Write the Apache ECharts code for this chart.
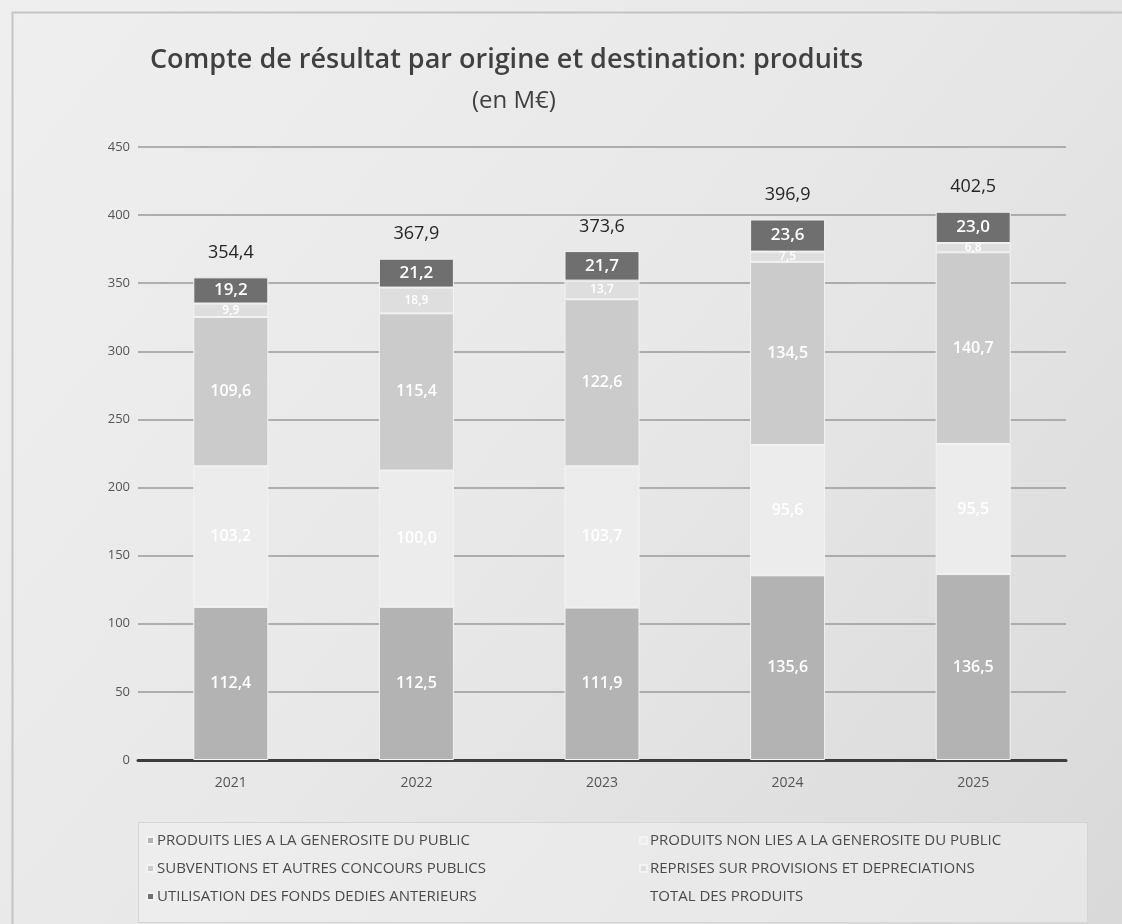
<!DOCTYPE html>
<html><head><meta charset="utf-8">
<script src="https://cdn.jsdelivr.net/npm/echarts@6/dist/echarts.min.js"></script>
<style>html,body{margin:0;padding:0;background:#e6e6e6}#c{width:1122px;height:924px}</style>
</head><body><div id="c"></div>
<script>
const categories = ['2021','2022','2023','2024','2025'];
const generosite = [112.4, 112.5, 111.9, 135.6, 136.5];
const nonGenerosite = [103.2, 100.0, 103.7, 95.6, 95.5];
const subventions = [109.6, 115.4, 122.6, 134.5, 140.7];
const reprises = [9.9, 18.9, 13.7, 7.5, 6.8];
const fondsDedies = [19.2, 21.2, 21.7, 23.6, 23.0];
const totals = [354.4, 367.9, 373.6, 396.9, 402.5];
const yTicks = [0, 50, 100, 150, 200, 250, 300, 350, 400, 450];

const names = ['PRODUITS LIES A LA GENEROSITE DU PUBLIC','PRODUITS NON LIES A LA GENEROSITE DU PUBLIC','SUBVENTIONS ET AUTRES CONCOURS PUBLICS','REPRISES SUR PROVISIONS ET DEPRECIATIONS','UTILISATION DES FONDS DEDIES ANTERIEURS','TOTAL DES PRODUITS'];
const fmt = v => v.toFixed(1).replace('.', ',');
const font = '"Open Sans", "Noto Sans", sans-serif';

function barSeries(name, data, color, labelSize, labelColor) {
  return {
    name, type: 'bar', stack: 'p', data, barWidth: 75,
    itemStyle: { color, borderColor: '#f3f3f3', borderWidth: 1 },
    label: { show: true, position: 'inside', color: labelColor || '#ffffff', fontFamily: font,
      fontSize: labelSize || 16, fontWeight: 600, formatter: p => fmt(p.value) }
  };
}

const chart = echarts.init(document.getElementById('c'), null, { renderer: 'canvas' });
chart.setOption({
  backgroundColor: {
    type: 'linear', x: 0, y: 0, x2: 1, y2: 1,
    colorStops: [{ offset: 0, color: '#efefef' }, { offset: 0.5, color: '#e8e8e8' }, { offset: 1, color: '#d9d9d9' }]
  },
  animation: false,
  graphic: [
    { type: 'rect', left: 10, top: 10, shape: { width: 1112, height: 914 }, style: { fill: 'none', stroke: '#c4c4c4', lineWidth: 2 }, z: -1 },
    { type: 'rect', left: 138, top: 822, shape: { width: 949, height: 100 }, style: { fill: 'rgba(240,240,240,0.55)', stroke: '#d4d4d4', lineWidth: 1 }, z: -1 }
  ],
  title: [
    { text: 'Compte de résultat par origine et destination: produits', left: 145, top: 42,
      textStyle: { fontFamily: font, fontSize: 27, fontWeight: 600, color: '#404040' } },
    { text: '(en M€)', left: 467, top: 84,
      textStyle: { fontFamily: font, fontSize: 24, fontWeight: 400, color: '#404040' } }
  ],
  legend: [
    { data: [names[0], names[2], names[4]], orient: 'vertical', left: 141, top: 828, itemGap: 13,
      itemWidth: 7, itemHeight: 7, icon: 'rect',
      textStyle: { fontFamily: font, fontSize: 15, color: '#4a4a4a', padding: [0, 0, 0, -2] } },
    { data: [names[1], names[3], names[5]], orient: 'vertical', left: 634, top: 828, itemGap: 13,
      itemWidth: 7, itemHeight: 7, icon: 'rect',
      textStyle: { fontFamily: font, fontSize: 15, color: '#4a4a4a', padding: [0, 0, 0, -2] } }
  ],
  grid: { left: 138, right: 56, top: 147, bottom: 164 },
  xAxis: {
    type: 'category', data: categories,
    axisLine: { show: true, lineStyle: { color: '#3c3c3c', width: 3 } },
    axisTick: { show: false },
    axisLabel: { fontFamily: font, fontSize: 14, color: '#555', margin: 16 }
  },
  yAxis: {
    type: 'value', min: yTicks[0], max: yTicks[yTicks.length - 1], interval: 50,
    axisLine: { show: false }, axisTick: { show: false },
    axisLabel: { fontFamily: font, fontSize: 13, color: '#555', margin: 8 },
    splitLine: { lineStyle: { color: '#9a9a9a', width: 1.5 } }
  },
  series: [
    barSeries(names[0], generosite, '#b3b3b3'),
    barSeries(names[1], nonGenerosite, '#ececec'),
    barSeries(names[2], subventions, '#cbcbcb'),
    barSeries(names[3], reprises, '#dedede', 12),
    barSeries(names[4], fondsDedies, '#6f6f6f', 17),
    {
      name: names[5], type: 'line', data: totals, symbol: 'circle', symbolSize: 1,
      lineStyle: { width: 0, opacity: 0 }, itemStyle: { color: 'rgba(0,0,0,0)' },
      label: { show: true, position: 'top', distance: 15, color: '#262626', fontFamily: font,
        fontSize: 18, fontWeight: 500, formatter: p => fmt(p.value) },
      z: 5
    }
  ]
});
</script></body></html>
